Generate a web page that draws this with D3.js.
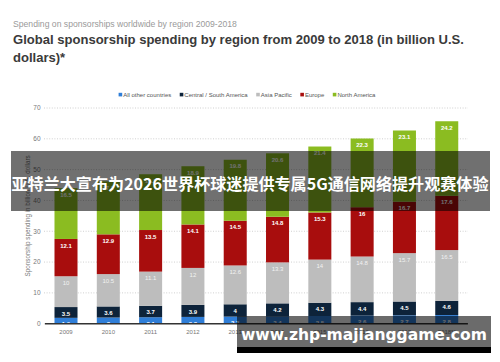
<!DOCTYPE html>
<html><head><meta charset="utf-8">
<script src="https://cdn.jsdelivr.net/npm/d3@7"></script>
<style>html,body{margin:0;padding:0;background:#fff;}svg{display:block;}</style>
</head><body>
<svg id="c" width="500" height="362"></svg>
<script>
const years = ["2009","2010","2011","2012","2013","2014","2015","2016","2017","2018**"];
const seriesNames = ["All other countries","Central / South America","Asia Pacific","Europe","North America"];
const allOther   = [1.9, 2, 2.1, 2.2, 2.3, 2.4, 2.5, 2.6, 2.7, 2.8];
const centralSA  = [3.5, 3.6, 3.7, 3.9, 4, 4.2, 4.3, 4.4, 4.5, 4.6];
const asiaPac    = [10, 10.5, 11.1, 12, 12.6, 13.3, 14, 14.8, 15.7, 16.5];
const europe     = [12.1, 12.9, 13.5, 14.1, 14.5, 14.8, 15.3, 16, 16.7, 17.6];
const northAm    = [16.5, 17.2, 18.1, 18.9, 19.8, 20.6, 21.4, 22.3, 23.1, 24.2];
const yTicks = [0, 10, 20, 30, 40, 50, 60, 70];
const colors = ["#2f7ed8", "#0d233a", "#bdbdbd", "#a80d0d", "#8bbc21"];
const labelColors = ["#ffffff", "#ffffff", "#f2f2f2", "#ffffff", "#ffffff"];

const seriesVals = [allOther, centralSA, asiaPac, europe, northAm];
const rows = years.map((y, i) => {
  const r = {year: y};
  seriesNames.forEach((s, k) => r[s] = seriesVals[k][i]);
  return r;
});

const svg = d3.select("#c");
svg.append("rect").attr("width", 500).attr("height", 362).attr("fill", "#fff");
const FONT = "'Liberation Sans', Arial, sans-serif";

function fitWidth(sel, w) {
  const n = sel.node();
  const cur = n.getComputedTextLength();
  const fs = parseFloat(sel.attr("font-size"));
  sel.attr("font-size", (fs * w / cur).toFixed(2));
}

// titles
const sub = svg.append("text").attr("x", 13).attr("y", 26.5).attr("font-family", FONT)
  .attr("font-size", 8).attr("fill", "#9a9a9a").text("Spending on sponsorships worldwide by region 2009-2018");
fitWidth(sub, 224);
const t1 = svg.append("text").attr("x", 13).attr("y", 43.5).attr("font-family", FONT)
  .attr("font-size", 14).attr("font-weight", "bold").attr("fill", "#3a3a3a")
  .text("Global sponsorship spending by region from 2009 to 2018 (in billion U.S.");
fitWidth(t1, 451);
svg.append("text").attr("x", 13).attr("y", 61.5).attr("font-family", FONT)
  .attr("font-size", t1.attr("font-size")).attr("font-weight", "bold").attr("fill", "#3a3a3a")
  .text("dollars)*");

// scales
const x = d3.scaleBand().domain(years).range([44.85, 467.9]).paddingInner(0.456).paddingOuter(0.228);
const y = d3.scaleLinear().domain([0, 70]).range([323.7, 108]);

// grid + y labels
const grid = svg.append("g");
yTicks.forEach(t => {
  if (t > 0) grid.append("line").attr("x1", 44).attr("x2", 468).attr("y1", y(t)).attr("y2", y(t))
    .attr("stroke", "#c4c4c4").attr("stroke-width", 0.8).attr("stroke-dasharray", "1,1.6");
  grid.append("text").attr("x", 40.5).attr("y", y(t)).attr("dy", "0.35em").attr("text-anchor", "end")
    .attr("font-family", FONT).attr("font-size", 6.5).attr("fill", "#777").text(t);
});

svg.append("text").attr("transform", `translate(29.5,${(y(0) + y(70)) / 2}) rotate(-90)`)
  .attr("text-anchor", "middle").attr("font-family", FONT).attr("font-size", 6.3).attr("fill", "#777")
  .text("Sponsorship spending in billion U.S. dollars");

// stacked bars
const stack = d3.stack().keys(seriesNames)(rows);
const gBars = svg.append("g");
stack.forEach((layer, k) => {
  gBars.selectAll(null).data(layer).enter().append("rect")
    .attr("x", d => x(d.data.year)).attr("width", x.bandwidth())
    .attr("y", d => y(d[1])).attr("height", d => y(d[0]) - y(d[1]))
    .attr("fill", colors[k]);
});
stack.forEach((layer, k) => {
  gBars.selectAll(null).data(layer).enter().append("text")
    .attr("x", d => x(d.data.year) + x.bandwidth() / 2).attr("y", d => y(d[1]) + 8.6)
    .attr("text-anchor", "middle").attr("font-family", FONT).attr("font-size", 6)
    .attr("font-weight", k === 2 ? "normal" : "bold")
    .attr("fill", labelColors[k]).text(d => d.data[layer.key]);
});

// x axis
svg.append("line").attr("x1", 44.85).attr("x2", 467.9).attr("y1", y(0)).attr("y2", y(0))
  .attr("stroke", "#333").attr("stroke-width", 1.5);
svg.append("g").selectAll("text").data(years).enter().append("text")
  .attr("x", d => x(d) + x.bandwidth() / 2).attr("y", 334).attr("text-anchor", "middle")
  .attr("font-family", FONT).attr("font-size", 6).attr("fill", "#777").text(d => d);

// legend
const lg = svg.append("g");
let lx = 0;
const items = [];
seriesNames.forEach((s, k) => {
  const g = lg.append("g");
  g.append("rect").attr("x", lx).attr("y", -2.2).attr("width", 3.6).attr("height", 3.6).attr("fill", colors[k]);
  const tx = g.append("text").attr("x", lx + 4.6).attr("y", 0).attr("dy", "0.35em")
    .attr("font-family", FONT).attr("font-size", 6).attr("fill", "#555").text(s);
  lx += 4.6 + tx.node().getComputedTextLength() + 8.5;
});
const lw = lx - 8.5;
lg.attr("transform", `translate(${247 - lw / 2},95)`);

// overlay band with Chinese headline
svg.append("rect").attr("x", 11).attr("y", 151).attr("width", 479).attr("height", 60)
  .attr("fill", "#000").attr("fill-opacity", 0.56);
const cn = svg.append("text").attr("x", 250).attr("y", 189.5).attr("text-anchor", "middle")
  .attr("font-family", "'Noto Sans CJK SC', sans-serif").attr("font-weight", "bold")
  .attr("font-size", 16.5).attr("fill", "#fff")
  .text("亚特兰大宣布为2026世界杯球迷提供专属5G通信网络提升观赛体验");
fitWidth(cn, 477);

// watermark
svg.append("rect").attr("x", 237).attr("y", 316).attr("width", 254).attr("height", 31)
  .attr("fill", "#000").attr("fill-opacity", 0.58);
svg.append("rect").attr("x", 237).attr("y", 347).attr("width", 254).attr("height", 6)
  .attr("fill", "#000");
const wm = svg.append("text").attr("x", 241).attr("y", 339.5)
  .attr("font-family", "'DejaVu Sans', sans-serif").attr("font-weight", "bold")
  .attr("font-size", 18).attr("fill", "#fff").text("www.zhp-majianggame.com");
fitWidth(wm, 246);
</script>
</body></html>
